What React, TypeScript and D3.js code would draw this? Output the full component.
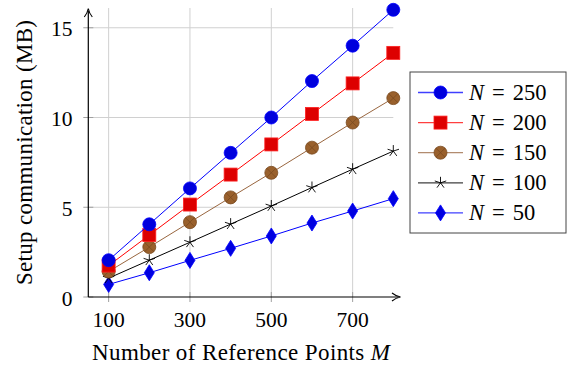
import * as d3 from "d3";
import React from "react";

// number of reference points M
const refPoints = [100, 200, 300, 400, 500, 600, 700, 800];

// setup communication (MB) per N
const n250 = [2.05, 4.05, 6.05, 8.03, 10.0, 12.03, 14.0, 16.0];
const n200 = [1.75, 3.45, 5.15, 6.82, 8.5, 10.2, 11.9, 13.6];
const n150 = [1.42, 2.78, 4.17, 5.55, 6.92, 8.32, 9.72, 11.08];
const n100 = [1.05, 2.05, 3.05, 4.06, 5.07, 6.1, 7.12, 8.13];
const n50 = [0.7, 1.35, 2.04, 2.71, 3.4, 4.12, 4.79, 5.48];

const xTicks = [100, 300, 500, 700];
const yTicks = [0, 5, 10, 15];

type Mark = "circle" | "square" | "otimes" | "star" | "diamond";

const series: { label: string; values: number[]; line: string; fill: string; stroke: string; mark: Mark }[] = [
  { label: "250", values: n250, line: "#0000ff", fill: "#0000dd", stroke: "#0000ff", mark: "circle" },
  { label: "200", values: n200, line: "#ff0000", fill: "#dd0000", stroke: "#ff2020", mark: "square" },
  { label: "150", values: n150, line: "#99663f", fill: "#99602c", stroke: "#7a4a1f", mark: "otimes" },
  { label: "100", values: n100, line: "#000000", fill: "#000000", stroke: "#000000", mark: "star" },
  { label: "50", values: n50, line: "#0000ff", fill: "#0000e0", stroke: "#0000ff", mark: "diamond" },
];

const FONT = '"Liberation Serif", "DejaVu Serif", serif';

const Marker: React.FC<{ x: number; y: number; s: (typeof series)[number] }> = ({ x, y, s }) => {
  if (s.mark === "circle") return <circle cx={x} cy={y} r={6.5} fill={s.fill} stroke={s.stroke} strokeWidth={0.8} />;
  if (s.mark === "square")
    return <rect x={x - 6.5} y={y - 6.5} width={13} height={13} fill={s.fill} stroke={s.stroke} strokeWidth={0.8} />;
  if (s.mark === "otimes") {
    const d = 6.5 * Math.SQRT1_2;
    return (
      <g>
        <circle cx={x} cy={y} r={6.5} fill={s.fill} stroke={s.stroke} strokeWidth={0.8} />
        <path d={`M${x - d},${y - d}L${x + d},${y + d}M${x - d},${y + d}L${x + d},${y - d}`} stroke={s.stroke} strokeWidth={0.8} />
      </g>
    );
  }
  if (s.mark === "star") {
    const r = 6;
    const arms = d3.range(5).map((i) => {
      const a = -Math.PI / 2 + (i * 2 * Math.PI) / 5;
      return `M${x},${y}L${x + r * Math.cos(a)},${y + r * Math.sin(a)}`;
    });
    return <path d={arms.join("")} stroke="#000" strokeWidth={0.9} fill="none" />;
  }
  return <path d={`M${x},${y - 8}L${x + 5},${y}L${x},${y + 8}L${x - 5},${y}Z`} fill={s.fill} stroke={s.stroke} strokeWidth={0.8} />;
};

const App: React.FC = () => {
  const x = d3.scaleLinear().domain([50, 800]).range([88.3, 393.3]);
  const y = d3.scaleLinear().domain([0, 16]).range([297, 9.8]);
  const line = d3
    .line<number>()
    .x((_, i) => x(refPoints[i]))
    .y((d) => y(d));

  const legendX = 410;
  const legendY = 72;
  const txt = { fontFamily: FONT };

  return (
    <svg width={568} height={367} style={{ position: "absolute", left: 0, top: 0, background: "#fff", fontFamily: FONT }}>
      {/* grid */}
      {xTicks.map((t) => (
        <line key={"gx" + t} x1={x(t)} x2={x(t)} y1={8} y2={297} stroke="#d0d0d0" strokeWidth={1} />
      ))}
      {yTicks.slice(1).map((t) => (
        <line key={"gy" + t} x1={88.3} x2={393.3} y1={y(t)} y2={y(t)} stroke="#d0d0d0" strokeWidth={1} />
      ))}
      {/* tick marks */}
      {xTicks.map((t) => (
        <line key={"tx" + t} x1={x(t)} x2={x(t)} y1={292} y2={302} stroke="#a0a0a0" strokeWidth={1} />
      ))}
      {yTicks.map((t) => (
        <line key={"ty" + t} x1={83.3} x2={93.3} y1={y(t)} y2={y(t)} stroke="#a0a0a0" strokeWidth={1} />
      ))}
      {/* axes */}
      <line x1={88.3} x2={88.3} y1={297} y2={11} stroke="#000" strokeWidth={1.2} />
      <path d="M84.3,17 Q87.5,13 88.3,8.5 Q89.1,13 92.3,17" fill="none" stroke="#000" strokeWidth={1.1} />
      <line x1={88.3} x2={398} y1={297} y2={297} stroke="#000" strokeWidth={1.2} />
      <path d="M392,293 Q396,296.2 400.5,297 Q396,297.8 392,301" fill="none" stroke="#000" strokeWidth={1.1} />

      {/* tick labels */}
      {xTicks.map((t) => (
        <text key={"lx" + t} x={x(t)} y={327} textAnchor="middle" fontSize={21.5} style={txt}>
          {t}
        </text>
      ))}
      {yTicks.map((t) => (
        <text key={"ly" + t} x={72.5} y={y(t) + 8.5} textAnchor="end" fontSize={21.5} style={txt}>
          {t}
        </text>
      ))}

      {/* axis titles */}
      <text x={92} y={360} fontSize={23} style={txt} textLength={298} lengthAdjust="spacing">
        Number of Reference Points <tspan fontStyle="italic">M</tspan>
      </text>
      <text transform="translate(32,285) rotate(-90)" fontSize={23} style={txt} textLength={265} lengthAdjust="spacing">
        Setup communication (MB)
      </text>

      {/* series, drawn bottom first */}
      {[...series].reverse().map((s) => (
        <g key={s.label}>
          <path d={line(s.values) ?? ""} fill="none" stroke={s.line} strokeWidth={1} />
          {s.values.map((v, i) => (
            <Marker key={i} x={x(refPoints[i])} y={y(v)} s={s} />
          ))}
        </g>
      ))}

      {/* legend */}
      <rect x={legendX} y={legendY} width={156} height={161} fill="#fff" stroke="#444" strokeWidth={1} />
      {series.map((s, i) => {
        const cy = legendY + 20.5 + i * 30.1;
        return (
          <g key={"lg" + s.label}>
            <line x1={418} x2={463} y1={cy} y2={cy} stroke={s.line} strokeWidth={1.3} opacity={0.75} />
            <Marker x={440.5} y={cy} s={s} />
            <text x={469} y={cy + 7.5} fontSize={22.5} style={txt}>
              <tspan fontStyle="italic">N</tspan>
              <tspan dx={8}>=</tspan>
              <tspan dx={8}>{s.label}</tspan>
            </text>
          </g>
        );
      })}
    </svg>
  );
};

export default App;
